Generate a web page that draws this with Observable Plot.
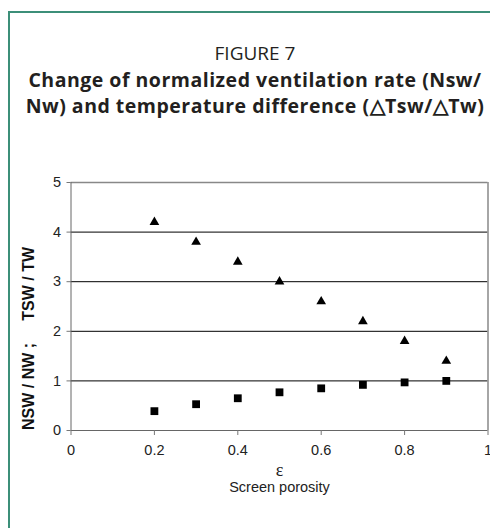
<!DOCTYPE html>
<html>
<head>
<meta charset="utf-8">
<script src="https://cdn.jsdelivr.net/npm/d3@7"></script>
<script src="https://cdn.jsdelivr.net/npm/@observablehq/plot@0.6"></script>
<style>
  html, body { margin: 0; padding: 0; background: #fff; }
  #wrap { position: relative; width: 490px; height: 528px; overflow: hidden; }
  #box { position: absolute; left: 8px; top: 11px; width: 600px; height: 600px;
         border-left: 2px solid #3c8f79; border-top: 2px solid #3c8f79; }
  .t { position: absolute; left: 9px; width: 492px; text-align: center; color: #231f20;
       font-family: "Open Sans", "Noto Sans", sans-serif; white-space: nowrap; line-height: 26px; }
  #fig { top: 40px; font-size: 19px; }
  #l1 { top: 67px; font-size: 19.5px; font-weight: bold; letter-spacing: 0.5px; }
  #l2 { top: 93px; font-size: 19.5px; font-weight: bold; letter-spacing: 0.5px; }
  #chart { position: absolute; left: 0; top: 170px; }
</style>
</head>
<body>
<div id="wrap">
  <div id="box"></div>
  <div class="t" id="fig">FIGURE 7</div>
  <div class="t" id="l1">Change of normalized ventilation rate (Nsw/</div>
  <div class="t" id="l2">Nw) and temperature difference (△Tsw/△Tw)</div>
  <div id="chart"></div>
</div>
<script>
const porosity = [0.2, 0.3, 0.4, 0.5, 0.6, 0.7, 0.8, 0.9];
const tswTw = [4.2, 3.8, 3.4, 3.0, 2.6, 2.2, 1.8, 1.4];
const nswNw = [0.39, 0.53, 0.65, 0.77, 0.85, 0.92, 0.97, 1.0];
const xTicks = [0, 0.2, 0.4, 0.6, 0.8, 1];
const yTicks = [0, 1, 2, 3, 4, 5];
const gridY = [1, 2, 3, 4];
const yLabel = "NSW / NW\u00a0;\u00a0\u00a0\u00a0\u00a0\u00a0TSW / TW";
const xSymbol = "ε";
const xLabel = "Screen porosity";

const triData = porosity.map((p, i) => ({x: p, y: tswTw[i]}));
const sqData = porosity.map((p, i) => ({x: p, y: nswNw[i]}));

const chart = Plot.plot({
  width: 490,
  height: 330,
  marginTop: 12,
  marginBottom: 70,
  marginLeft: 70.5,
  marginRight: 2.5,
  style: {fontFamily: "'Liberation Sans', Arial, sans-serif", fontSize: "14px", color: "#222", background: "transparent", overflow: "visible"},
  x: {domain: [0, 1], ticks: xTicks, tickFormat: d => String(d), label: null},
  y: {domain: [0, 5], ticks: yTicks, tickFormat: d => String(d), label: null},
  marks: [
    Plot.ruleY(gridY, {stroke: "#000", strokeWidth: 1}),
    Plot.ruleY([5], {stroke: "#888", strokeWidth: 1.5}),
    Plot.ruleX([1], {stroke: "#888", strokeWidth: 1.5}),
    Plot.ruleY([0], {stroke: "#666", strokeWidth: 1}),
    Plot.ruleX([0], {stroke: "#666", strokeWidth: 1}),
    Plot.axisX({ticks: xTicks, tickSize: 5, tickPadding: 9, stroke: "#777", fill: "#222", fontSize: 14.5, tickFormat: d => String(d), label: null}),
    Plot.axisY({ticks: yTicks, tickSize: 4, tickPadding: 6, stroke: "#777", fill: "#222", fontSize: 14.5, tickFormat: d => String(d), label: null}),
    Plot.dot(triData, {x: "x", y: "y", symbol: "triangle", r: 3.6, fill: "#000", stroke: null}),
    Plot.dot(sqData, {x: "x", y: "y", symbol: "square", r: 4.4, fill: "#000", stroke: null}),
    Plot.text([yLabel], {text: d => d, frameAnchor: "left", textAnchor: "middle", rotate: -90, dx: -42, dy: 32, fontWeight: "bold", fontSize: 16, fill: "#111"}),
    Plot.text([xSymbol], {text: d => d, frameAnchor: "bottom", dy: 45, fontSize: 18, fontFamily: "'Liberation Serif', serif", fill: "#222"}),
    Plot.text([xLabel], {text: d => d, frameAnchor: "bottom", dy: 61, fontSize: 14.5, fill: "#222"})
  ]
});
document.getElementById("chart").appendChild(chart);
</script>
</body>
</html>
